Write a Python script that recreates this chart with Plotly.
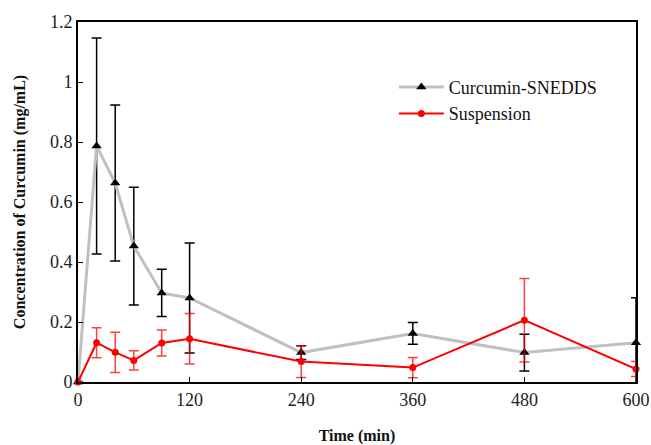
import plotly.graph_objects as go

time_min = [0, 20, 40, 60, 90, 120, 240, 360, 480, 600]
snedds_mean = [0, 0.787, 0.663, 0.453, 0.297, 0.280, 0.098, 0.162, 0.098, 0.131]
snedds_err = [0, 0.360, 0.260, 0.196, 0.079, 0.183, 0.023, 0.036, 0.061, 0.150]
susp_mean = [0, 0.131, 0.099, 0.072, 0.130, 0.144, 0.068, 0.048, 0.206, 0.043]
susp_err = [0, 0.050, 0.067, 0.032, 0.043, 0.084, 0.053, 0.034, 0.139, 0.025]
x_ticks = [0, 120, 240, 360, 480, 600]
y_ticks = [0, 0.2, 0.4, 0.6, 0.8, 1.0, 1.2]

fig = go.Figure()
fig.add_trace(go.Scatter(
    x=time_min, y=snedds_mean, name="Curcumin-SNEDDS", mode="lines+markers",
    line=dict(color="#c0c0c0", width=3),
    marker=dict(symbol="triangle-up", size=9, color="black"),
    error_y=dict(type="data", array=snedds_err, visible=True, color="black", thickness=1.5, width=5),
    cliponaxis=False,
))
fig.add_trace(go.Scatter(
    x=time_min, y=susp_mean, name="Suspension", mode="lines+markers",
    line=dict(color="#ff0000", width=2),
    marker=dict(symbol="circle", size=7, color="#ff0000"),
    error_y=dict(type="data", array=susp_err, visible=True, color="rgba(255,0,0,0.75)", thickness=1.5, width=5),
    cliponaxis=False,
))

fig.update_layout(
    width=651, height=445,
    margin=dict(l=78, r=15, t=22, b=63),
    paper_bgcolor="white", plot_bgcolor="white",
    font=dict(family="Liberation Serif", size=18, color="#222"),
    showlegend=True,
    legend=dict(x=0.566, y=0.87, xanchor="left", yanchor="top",
                bgcolor="rgba(0,0,0,0)", font=dict(size=18, color="#111"),
                itemwidth=45, tracegroupgap=2),
)
fig.update_xaxes(
    range=[0, 600], tickvals=x_ticks, ticks="inside", ticklen=5, tickwidth=1,
    tickcolor="black", showline=True, linecolor="black", linewidth=2, mirror=True,
    showgrid=False, zeroline=False, automargin=False,
    title=dict(text="<b>Time (min)</b>", font=dict(size=16, color="#111"), standoff=23),
)
fig.update_yaxes(
    range=[0, 1.2], tickvals=y_ticks, ticks="inside", ticklen=5, tickwidth=1,
    tickcolor="black", showline=True, linecolor="black", linewidth=2, mirror=True,
    showgrid=False, zeroline=False, automargin=False,
    title=dict(text="<b>Concentration of Curcumin (mg/mL)</b>", font=dict(size=16, color="#111"), standoff=20),
)

fig.write_html(
    "out.html",
    config={"displayModeBar": False},
    post_script="document.body.style.margin='0';document.body.style.overflow='hidden';",
)
